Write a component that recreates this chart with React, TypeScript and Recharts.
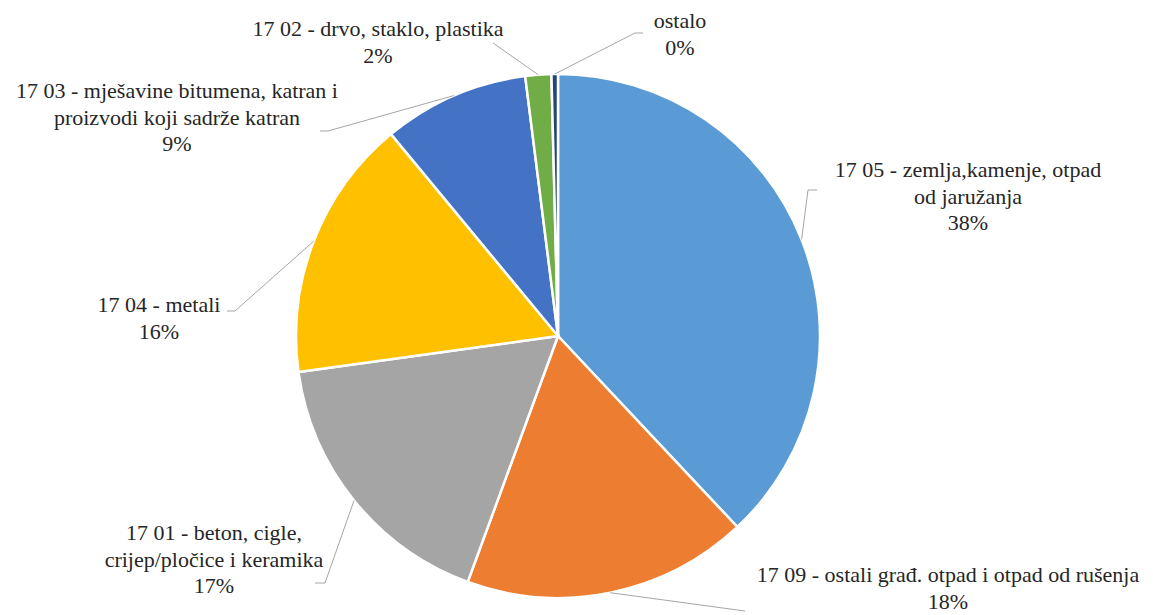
import React from 'react';
import { PieChart, Pie, Cell } from 'recharts';

const categories = [
  '17 05 - zemlja,kamenje, otpad od jaružanja',
  '17 09 - ostali građ. otpad i otpad od rušenja',
  '17 01 - beton, cigle, crijep/pločice i keramika',
  '17 04 - metali',
  '17 03 - mješavine bitumena, katran i proizvodi koji sadrže katran',
  '17 02 - drvo, staklo, plastika',
  'ostalo',
];

const labelLines = [
  ['17 05 - zemlja,kamenje, otpad', 'od jaružanja'],
  ['17 09 - ostali građ. otpad i otpad od rušenja'],
  ['17 01 - beton, cigle,', 'crijep/pločice i keramika'],
  ['17 04 - metali'],
  ['17 03 - mješavine bitumena, katran i', 'proizvodi koji sadrže katran'],
  ['17 02 - drvo, staklo, plastika'],
  ['ostalo'],
];

const shares = [38.0, 17.6, 17.2, 16.2, 9.0, 1.6, 0.4];

const colors = ['#5B9BD5', '#ED7D31', '#A5A5A5', '#FFC000', '#4472C4', '#70AD47', '#264478'];

// label placement relative to pie center (annotation layout)
const labelLayout = [
  { elbow: [250, -146], end: [259, -146], tx: 410, ty: -159 },
  { elbow: [187, 275], end: null, tx: 390, ty: 246 },
  { elbow: [-233, 247], end: [-243, 247], tx: -344, ty: 204 },
  { elbow: [-323, -25], end: [-331, -25], tx: -399, ty: -24 },
  { elbow: [-230, -205], end: [-238, -205], tx: -381, ty: -238 },
  { elbow: [-65, -293], end: null, tx: -180, ty: -300 },
  { elbow: [77, -303], end: [85, -303], tx: 122, ty: -308 },
];

const data = categories.map((name, i) => ({ name, value: shares[i] }));

const RAD = Math.PI / 180;
const LINE_H = 26.5;
const FONT = '"Liberation Serif", "Times New Roman", serif';

const forceFont = (el: SVGTextElement | null) => {
  if (el) {
    el.style.setProperty('font-family', FONT, 'important');
    el.style.setProperty('font-size', '22px', 'important');
  }
};

const renderLabel = (props: any) => {
  const { cx, cy, midAngle, outerRadius, index, percent } = props;
  const lay = labelLayout[index];
  const sx = cx + Math.cos(-midAngle * RAD) * outerRadius;
  const sy = cy + Math.sin(-midAngle * RAD) * outerRadius;
  const pts: number[][] = [[sx, sy], [cx + lay.elbow[0], cy + lay.elbow[1]]];
  if (lay.end) pts.push([cx + lay.end[0], cy + lay.end[1]]);
  const lines = [...labelLines[index], `${Math.round(percent * 100)}%`];
  return (
    <g key={`lbl-${index}`}>
      <polyline
        points={pts.map((p) => p.join(',')).join(' ')}
        fill="none"
        stroke="#A6A6A6"
        strokeWidth={1}
      />
      {lines.map((l, k) => (
        <text
          key={k}
          ref={forceFont}
          x={cx + lay.tx}
          y={cy + lay.ty + k * LINE_H}
          textAnchor="middle"
          fontFamily={FONT}
          fontSize={22}
          fill="#262626"
        >
          {l}
        </text>
      ))}
    </g>
  );
};

export default function App() {
  return (
    <div style={{ position: 'absolute', left: 0, top: 0, width: 1153, height: 615, background: '#fff' }}>
      <PieChart width={1153} height={615} margin={{ top: 0, right: 0, bottom: 0, left: 0 }}>
        <Pie
          data={data}
          dataKey="value"
          nameKey="name"
          cx={558}
          cy={336}
          outerRadius={262}
          startAngle={90}
          endAngle={-270}
          stroke="#FFFFFF"
          strokeWidth={2.5}
          label={renderLabel}
          labelLine={false}
          isAnimationActive={false}
        >
          {data.map((d, i) => (
            <Cell key={d.name} fill={colors[i]} />
          ))}
        </Pie>
      </PieChart>
    </div>
  );
}
